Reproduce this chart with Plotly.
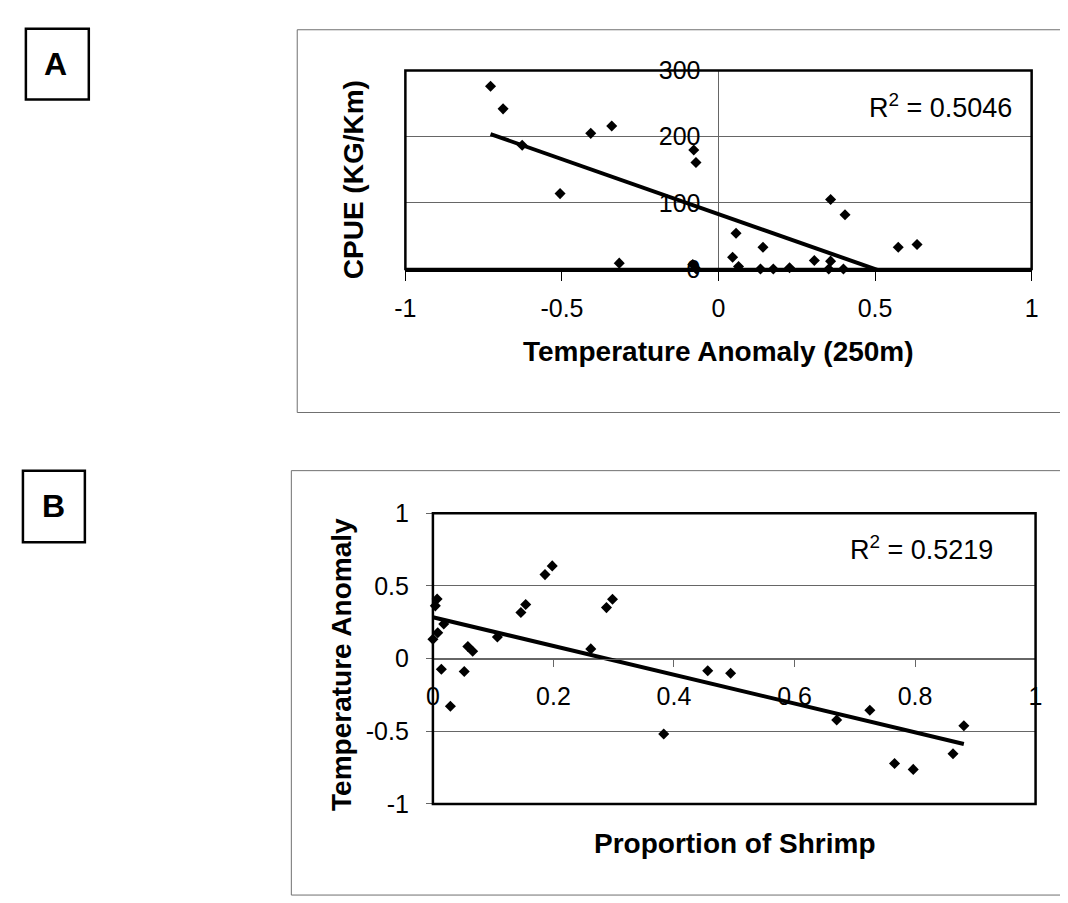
import plotly.graph_objects as go

# ---------------- data ----------------
# Panel A: CPUE vs temperature anomaly at 250 m
temp_a = [-0.728, -0.688, -0.627, -0.506, -0.408, -0.341, -0.317, -0.079, -0.072,
          -0.082, -0.071, 0.045, 0.056, 0.064, 0.134, 0.142, 0.175, 0.227, 0.306,
          0.352, 0.358, 0.358, 0.399, 0.404, 0.574, 0.634]
cpue_a = [276, 242, 187, 114, 205, 216, 9, 180, 161,
          7, 0, 18, 54, 4, 0, 33, 0, 2, 13,
          0, 12, 105, 0, 82, 33, 37]
trend_a_intercept = 83.0
trend_a_slope = -166.0
r2_a = "0.5046"

# Panel B: temperature anomaly vs proportion of shrimp
prop_b = [0.004, 0.007, 0.018, 0.008, 0.000, 0.014, 0.029, 0.052, 0.058, 0.066,
          0.107, 0.146, 0.154, 0.186, 0.198, 0.262, 0.288, 0.298, 0.383, 0.456,
          0.494, 0.670, 0.725, 0.766, 0.797, 0.863, 0.881]
temp_b = [0.363, 0.410, 0.238, 0.178, 0.133, -0.073, -0.327, -0.089, 0.083, 0.051,
          0.149, 0.318, 0.373, 0.578, 0.638, 0.067, 0.351, 0.409, -0.518, -0.084,
          -0.100, -0.422, -0.355, -0.722, -0.762, -0.655, -0.462]
trend_b_intercept = 0.285
trend_b_slope = -0.99
r2_b = "0.5219"

ticks_a_x = [-1, -0.5, 0, 0.5, 1]
ticks_a_y = [0, 100, 200, 300]
ticks_b_x = [0, 0.2, 0.4, 0.6, 0.8, 1]
ticks_b_y = [-1, -0.5, 0, 0.5, 1]

# ---------------- layout helpers ----------------
W, H = 1068, 903
def px(x):
    return x / W
def py(y):
    return 1 - y / H

FONT = "Liberation Sans, Arial, Helvetica, sans-serif"
GRID = "#666666"

fig = go.Figure()

# trend lines (from the read coefficients over the data range)
xa0, xa1 = min(temp_a), max(temp_a)
fig.add_trace(go.Scatter(x=[xa0, xa1],
                         y=[trend_a_intercept + trend_a_slope * xa0,
                            trend_a_intercept + trend_a_slope * xa1],
                         mode="lines", line=dict(color="black", width=4),
                         xaxis="x", yaxis="y", showlegend=False, hoverinfo="skip"))
fig.add_trace(go.Scatter(x=temp_a, y=cpue_a, mode="markers",
                         marker=dict(symbol="diamond", size=8.5, color="black"),
                         cliponaxis=False, xaxis="x", yaxis="y", showlegend=False))

xb0, xb1 = min(prop_b), max(prop_b)
fig.add_trace(go.Scatter(x=[xb0, xb1],
                         y=[trend_b_intercept + trend_b_slope * xb0,
                            trend_b_intercept + trend_b_slope * xb1],
                         mode="lines", line=dict(color="black", width=4),
                         xaxis="x2", yaxis="y2", showlegend=False, hoverinfo="skip"))
fig.add_trace(go.Scatter(x=prop_b, y=temp_b, mode="markers",
                         marker=dict(symbol="diamond", size=8.5, color="black"),
                         cliponaxis=False, xaxis="x2", yaxis="y2", showlegend=False))

tickfont = dict(family=FONT, size=25, color="black")

# Panel A geometry
A_left, A_right, A_top, A_bottom = 393, 1030, 50, 255
# Panel B geometry
B_left, B_right, B_top, B_bottom = 421, 1034, 507, 807
B_zero_y = (B_top + B_bottom) / 2

fig.update_layout(
    width=W, height=H,
    margin=dict(l=0, r=0, t=0, b=0),
    paper_bgcolor="white", plot_bgcolor="white",
    font=dict(family=FONT, color="black"),
    xaxis=dict(domain=[px(A_left), px(A_right)], range=[-1, 1],
               tickvals=ticks_a_x, ticktext=["-1", "-0.5", "0", "0.5", "1"],
               showgrid=False, zeroline=True, zerolinecolor=GRID, zerolinewidth=1,
               showline=True, linecolor="black", linewidth=2.5,
               ticks="outside", ticklen=9, tickcolor="black", tickwidth=1,
               ticklabelstandoff=6, tickfont=tickfont, anchor="y"),
    yaxis=dict(domain=[py(A_bottom), py(A_top)], range=[0, 300],
               tickvals=ticks_a_y, ticktext=["0", "100", "200", "300"],
               showgrid=True, gridcolor=GRID, gridwidth=1, zeroline=False,
               showline=False, ticks="", ticklabelstandoff=18,
               tickfont=tickfont, anchor="free",
               position=px(A_left + (A_right - A_left) / 2)),
    xaxis2=dict(domain=[px(B_left), px(B_right)], range=[0, 1],
                tickvals=ticks_b_x, ticktext=["0", "0.2", "0.4", "0.6", "0.8", "1"],
                showgrid=False, zeroline=False,
                showline=True, linecolor=GRID, linewidth=1,
                ticks="outside", ticklen=7, tickcolor=GRID, tickwidth=1,
                ticklabelstandoff=8, tickfont=tickfont,
                anchor="free", position=py(B_zero_y)),
    yaxis2=dict(domain=[py(B_bottom), py(B_top)], range=[-1, 1],
                tickvals=ticks_b_y, ticktext=["-1", "-0.5", "0", "0.5", "1"],
                showgrid=True, gridcolor=GRID, gridwidth=1, zeroline=False,
                showline=False, ticks="outside", ticklen=6, tickcolor=GRID,
                ticklabelstandoff=12, tickfont=tickfont, anchor="x2"),
)

shapes = []
# outer chart-area borders
shapes.append(dict(type="rect", xref="paper", yref="paper",
                   x0=px(283), x1=px(1080), y0=py(403), y1=py(8),
                   line=dict(color="#707070", width=1), layer="below"))
shapes.append(dict(type="rect", xref="paper", yref="paper",
                   x0=px(277), x1=px(1080), y0=py(901), y1=py(463),
                   line=dict(color="#707070", width=1), layer="below"))
# plot-area frames
for xr, yr in (("x", "y"), ("x2", "y2")):
    shapes.append(dict(type="rect", xref=f"{xr} domain", yref=f"{yr} domain",
                       x0=0, x1=1, y0=0, y1=1,
                       line=dict(color="black", width=2.5), layer="above"))
# panel letter boxes
shapes.append(dict(type="rect", xref="paper", yref="paper",
                   x0=px(7), x1=px(71), y0=py(80), y1=py(7),
                   line=dict(color="black", width=2.5)))
shapes.append(dict(type="rect", xref="paper", yref="paper",
                   x0=px(4), x1=px(67), y0=py(537), y1=py(463),
                   line=dict(color="black", width=2.5)))
fig.update_layout(shapes=shapes)

titlefont = dict(family=FONT, size=28, color="black")
ann = [
    dict(text="<b>A</b>", x=px(37), y=py(43), font=dict(family=FONT, size=32)),
    dict(text="<b>B</b>", x=px(35), y=py(499), font=dict(family=FONT, size=32)),
    dict(text="<b>CPUE (KG/Km)</b>", x=px(341), y=py(163), textangle=-90, font=titlefont),
    dict(text="<b>Temperature Anomaly (250m)</b>", x=px(711), y=py(340), font=titlefont),
    dict(text="<b>Temperature Anomaly</b>", x=px(328), y=py(663), textangle=-90, font=titlefont),
    dict(text="<b>Proportion of Shrimp</b>", x=px(728), y=py(848), font=titlefont),
    dict(text=f"R<sup>2</sup> = {r2_a}", x=px(863), y=py(87), xanchor="left",
         font=dict(family=FONT, size=27)),
    dict(text=f"R<sup>2</sup> = {r2_b}", x=px(843), y=py(543), xanchor="left",
         font=dict(family=FONT, size=27)),
]
for a in ann:
    a.setdefault("xanchor", "center")
    a.update(xref="paper", yref="paper", yanchor="middle", showarrow=False)
fig.update_layout(annotations=ann)

fig.write_html("out.html")
